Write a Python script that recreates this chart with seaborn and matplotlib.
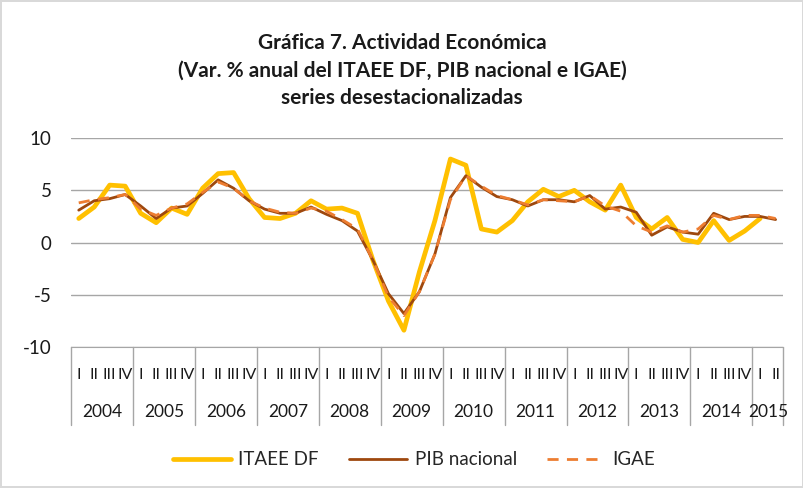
import numpy as np
import pandas as pd
import matplotlib.pyplot as plt
import matplotlib.transforms as mtransforms
import seaborn as sns

# Quarterly series, 2004 Q1 - 2015 Q2
years = [str(y) for y in range(2004, 2016)]
quarter_names = ['I', 'II', 'III', 'IV']
quarter_labels = quarter_names * 11 + ['I', 'II']

itaee_df = [2.3, 3.4, 5.5, 5.4, 2.8, 1.9, 3.3, 2.7,
            5.2, 6.6, 6.7, 4.2, 2.4, 2.3, 2.8, 4.0,
            3.2, 3.3, 2.8, -1.7, -5.6, -8.4, -2.8, 2.1,
            8.0, 7.4, 1.3, 1.0, 2.1, 3.9, 5.1, 4.4,
            5.0, 3.9, 3.1, 5.5, 2.4, 1.3, 2.4, 0.3,
            0.0, 2.1, 0.2, 1.1, 2.3, np.nan]
pib_nacional = [3.1, 4.0, 4.2, 4.6, 3.5, 2.3, 3.3, 3.5,
                4.7, 6.0, 5.2, 4.0, 3.2, 2.8, 2.8, 3.4,
                2.7, 2.1, 1.1, -1.7, -4.9, -6.8, -4.7, -1.1,
                4.3, 6.4, 5.3, 4.4, 4.1, 3.5, 4.1, 4.1,
                3.9, 4.5, 3.2, 3.4, 2.9, 0.7, 1.5, 1.0,
                0.8, 2.8, 2.2, 2.5, 2.5, 2.2]
igae = [3.8, 4.1, 4.3, 4.6, 3.2, 2.6, 3.3, 3.7,
        4.8, 5.8, 5.2, 4.0, 3.3, 2.9, 2.8, 3.3,
        3.0, 2.2, 1.3, -1.7, -5.2, -7.0, -4.7, -1.1,
        4.1, 6.4, 5.4, 4.5, 4.1, 3.6, 4.1, 4.0,
        3.9, 4.5, 3.5, 3.0, 1.6, 1.0, 1.6, 1.0,
        1.3, 2.6, 2.2, 2.6, 2.6, 2.3]

df = pd.DataFrame({'t': np.arange(len(quarter_labels)),
                   'ITAEE DF': itaee_df,
                   'PIB nacional': pib_nacional,
                   'IGAE': igae})

sns.set_style('white')
plt.rcParams['font.family'] = ['Lato', 'DejaVu Sans']
plt.rcParams['axes.unicode_minus'] = False

fig = plt.figure(figsize=(8.04, 4.88), dpi=100)
fig.patch.set_edgecolor('#d9d9d9')
fig.patch.set_linewidth(1.5)
ax = fig.add_axes([0.0883, 0.289, 0.886, 0.428])

sns.lineplot(data=df, x='t', y='ITAEE DF', ax=ax, color='#FFC000', linewidth=3.4,
             label='ITAEE DF')
sns.lineplot(data=df, x='t', y='PIB nacional', ax=ax, color='#9E480E', linewidth=2.0,
             label='PIB nacional')
sns.lineplot(data=df, x='t', y='IGAE', ax=ax, color='#ED7D31', linewidth=2.0,
             linestyle=(0, (4, 3)), label='IGAE')

ax.set_xlim(-0.5, len(quarter_labels) - 0.5)
ax.set_ylim(-10, 10)
ax.set_yticks([-10, -5, 0, 5, 10])
ax.yaxis.grid(True, color='#a6a6a6', linewidth=1)
ax.set_axisbelow(True)
for s in ['top', 'right', 'left']:
    ax.spines[s].set_visible(False)
ax.spines['bottom'].set_color('#a6a6a6')
ax.tick_params(axis='y', length=0, labelsize=13.5, pad=14, colors='#1a1a1a')

ax.set_xticks(df['t'])
ax.set_xticklabels(quarter_labels, fontsize=11.5, color='#1a1a1a')
ax.tick_params(axis='x', length=0, pad=15)
ax.set_xlabel('')
ax.set_ylabel('')

# year group labels and separators
trans = mtransforms.blended_transform_factory(ax.transData, ax.transAxes)
for k, yr in enumerate(years):
    start = 4 * k - 0.5
    end = min(4 * k + 3.5, len(quarter_labels) - 0.5)
    ax.text((start + end) / 2, -0.31, yr, transform=trans, ha='center', va='center',
            fontsize=12.5, color='#1a1a1a')
bounds = list(np.arange(-0.5, len(quarter_labels), 4)) + [len(quarter_labels) - 0.5]
for b in bounds:
    ax.plot([b, b], [0, -0.375], transform=trans, color='#a6a6a6', linewidth=1,
            clip_on=False)

ax.get_legend().remove()
handles, labels = ax.get_legend_handles_labels()
fig.legend(handles, labels, loc='center', bbox_to_anchor=(0.515, 0.058), ncol=3,
           frameon=False, fontsize=13.5, handlelength=3.1, columnspacing=1.6,
           handletextpad=0.4)

title_lines = ['Gráfica 7. Actividad Económica',
               '(Var. % anual del ITAEE DF, PIB nacional e IGAE)',
               'series desestacionalizadas']
for yy, line in zip([0.912, 0.856, 0.800], title_lines):
    fig.text(0.5, yy, line, ha='center', va='center', fontsize=15,
             fontweight='bold', color='#1a1a1a')

fig.savefig('out.png', dpi=100, edgecolor=fig.get_edgecolor())
